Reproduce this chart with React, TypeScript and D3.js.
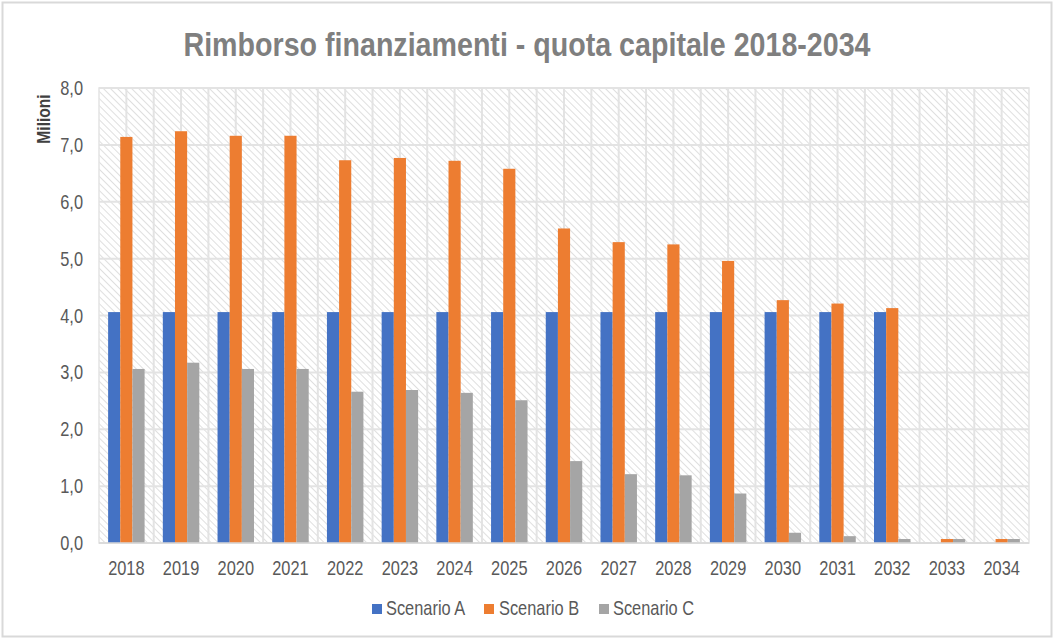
import React from "react";
import * as d3 from "d3";

const years = ["2018","2019","2020","2021","2022","2023","2024","2025","2026","2027","2028","2029","2030","2031","2032","2033","2034"];
const scenarioA = [4.06,4.06,4.06,4.06,4.06,4.06,4.06,4.06,4.06,4.06,4.06,4.06,4.06,4.06,4.06,0,0];
const scenarioB = [7.14,7.24,7.16,7.16,6.73,6.77,6.72,6.58,5.53,5.29,5.25,4.96,4.27,4.21,4.13,0.07,0.07];
const scenarioC = [3.06,3.17,3.06,3.06,2.66,2.69,2.64,2.51,1.44,1.21,1.19,0.87,0.18,0.12,0.07,0.07,0.07];
const seriesNames = ["Scenario A","Scenario B","Scenario C"];
const seriesColors = ["#4472C4","#ED7D31","#A5A5A5"];
const yTicks = [0,1,2,3,4,5,6,7,8];

const W = 1054, H = 639;
const plot = { left: 99, right: 1029, top: 88, bottom: 543 };
const FONT = "'Liberation Sans', Arial, sans-serif";
const NX = 0.82;

function NText({ x, y, anchor = "start", size, weight = "normal", fill, children, rotate = 0 }: any) {
  return (
    <text
      transform={`translate(${x},${y}) rotate(${rotate}) scale(${NX},1)`}
      textAnchor={anchor}
      fontFamily={FONT}
      fontSize={size}
      fontWeight={weight}
      fill={fill}
    >
      {children}
    </text>
  );
}

export default function App() {
  const x = d3.scaleBand<string>().domain(years).range([plot.left, plot.right]).paddingInner(0).paddingOuter(0);
  const inner = d3.scaleBand<string>().domain(seriesNames).range([0, x.bandwidth()]).paddingInner(0).paddingOuter(0.75);
  const y = d3.scaleLinear().domain([0, 8]).range([plot.bottom, plot.top]);
  const data = [scenarioA, scenarioB, scenarioC];
  const fmt = (v: number) => d3.format(".1f")(v).replace(".", ",");

  const vLines: number[] = [];
  years.forEach((yr, i) => {
    const x0 = x(yr)!;
    if (i > 0) vLines.push(x0);
    vLines.push(x0 + x.bandwidth() / 2);
  });

  const legendItems = [
    { name: seriesNames[0], sq: 372, tx: 386 },
    { name: seriesNames[1], sq: 484, tx: 499 },
    { name: seriesNames[2], sq: 599, tx: 613 },
  ];

  return (
    <svg width={W} height={H} style={{ position: "absolute", left: 0, top: 0, background: "#fff" }}>
      <defs>
        <pattern id="hatch" width="5" height="5" patternUnits="userSpaceOnUse" patternTransform="rotate(-45)">
          <rect width="5" height="5" fill="#ffffff" />
          <line x1="0" y1="0" x2="0" y2="5" stroke="#dcdcdc" strokeWidth="1.8" />
        </pattern>
      </defs>
      <rect x={2.5} y={2.5} width={W - 5} height={H - 5} fill="#fff" stroke="#d9d9d9" strokeWidth={2} />
      <text x={527} y={56} textAnchor="middle" fontFamily={FONT} fontWeight="bold" fontSize={33} fill="#7f7f7f"
        textLength={687} lengthAdjust="spacingAndGlyphs">
        Rimborso finanziamenti - quota capitale 2018-2034
      </text>
      <rect x={plot.left} y={plot.top} width={plot.right - plot.left} height={plot.bottom - plot.top} fill="url(#hatch)" stroke="#e3e3e3" strokeWidth={1.5} />
      {yTicks.map(t => (
        <line key={"h" + t} x1={plot.left} x2={plot.right} y1={y(t)} y2={y(t)} stroke="#e3e3e3" strokeWidth={2} />
      ))}
      {vLines.map((v, i) => (
        <line key={"v" + i} x1={v} x2={v} y1={plot.top} y2={plot.bottom} stroke="#e3e3e3" strokeWidth={2} />
      ))}
      {data.map((vals, si) => (
        <g key={si}>
          {vals.map((v, i) => v > 0 ? (
            <rect key={i} x={x(years[i])! + inner(seriesNames[si])!} y={y(v)} width={inner.bandwidth()} height={y(0) - y(v)} fill={seriesColors[si]} />
          ) : null)}
        </g>
      ))}
      <line x1={plot.left} x2={plot.right} y1={plot.bottom} y2={plot.bottom} stroke="#d9d9d9" strokeWidth={1.5} />
      {yTicks.map(t => (
        <NText key={"yl" + t} x={83} y={y(t) + 7} anchor="end" size={20} fill="#595959">{fmt(t)}</NText>
      ))}
      {years.map(yr => (
        <NText key={"xl" + yr} x={x(yr)! + x.bandwidth() / 2} y={575} anchor="middle" size={20} fill="#595959">{yr}</NText>
      ))}
      <NText x={50} y={119} anchor="middle" size={19} weight="bold" fill="#404040" rotate={-90}>Milioni</NText>
      {legendItems.map((it, i) => (
        <g key={it.name}>
          <rect x={it.sq} y={604} width={10} height={10} fill={seriesColors[i]} />
          <NText x={it.tx} y={615} size={20} fill="#595959">{it.name}</NText>
        </g>
      ))}
    </svg>
  );
}
